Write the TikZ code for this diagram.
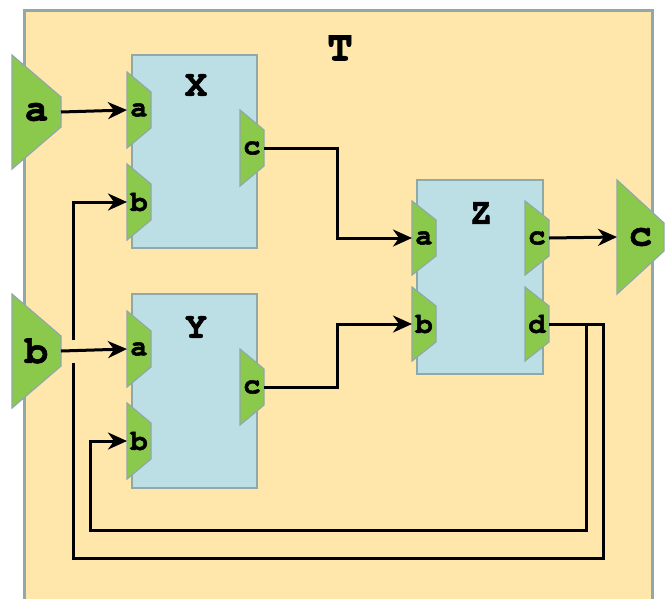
\documentclass[tikz,border=0pt]{standalone}
\usepackage{fontspec}
\newfontfamily\courfont{TeX Gyre Cursor}[BoldFeatures={FakeBold=1.6}]
\usetikzlibrary{arrows.meta}
\definecolor{framefill}{HTML}{FFE6AA}
\definecolor{boxfill}{HTML}{BBDFE5}
\definecolor{portfill}{HTML}{8BC94C}
\definecolor{edgegray}{HTML}{8FA8A8}
\tikzset{
  framebox/.style={fill=framefill, draw=edgegray, line width=3pt},
  compbox/.style={fill=boxfill, draw=edgegray, line width=1.5pt},
  portshape/.style={fill=portfill, draw=edgegray, line width=1.2pt, line join=miter},
  portlbl/.style={inner sep=0pt, font=\courfont\bfseries\fontsize{29}{29}\selectfont},
  outlbl/.style={inner sep=0pt, font=\courfont\bfseries\fontsize{39}{39}\selectfont},
  boxlbl/.style={inner sep=0pt, font=\courfont\bfseries\fontsize{37}{37}\selectfont},
  wire/.style={line width=3pt, line join=miter, black},
  arrowwire/.style={wire, -{Stealth[length=19pt, width=17pt, inset=6pt]}},
}
% #1 name, #2 left x, #3 center y, #4 width, #5 half height, #6 half short side, #7 style, #8 text
\newcommand{\myport}[8]{%
  \draw[portshape] (#2,#3-#5) -- (#2+#4,#3-#6) -- (#2+#4,#3+#6) -- (#2,#3+#5) -- cycle;
  \coordinate (#1-w) at (#2,#3);
  \coordinate (#1-e) at (#2+#4,#3);
  \node[#7] (#1) at (#2+#4/2,#3) {#8};
}
\begin{document}
\begin{tikzpicture}[x=1pt, y=-1pt]
\useasboundingbox (0,0) rectangle (671,598);
\begin{scope}
\clip (0,0) rectangle (671,598);
\draw[framebox] (24,10) rectangle (652,620);
\end{scope}
\node[boxlbl, font=\courfont\bfseries\fontsize{43}{43}\selectfont] (T) at (340,48) {T};

% components
\draw[compbox] (132,55) rectangle (257,248);
\node[boxlbl] (X) at (196,85) {X};
\draw[compbox] (132,294) rectangle (257,488);
\node[boxlbl] (Y) at (196,327) {Y};
\draw[compbox] (417,180) rectangle (543,374);
\node[boxlbl] (Z) at (481,213) {Z};

% outer ports
\myport{Ta}{12}{112}{49}{57}{15}{outlbl}{a}
\myport{Tb}{12}{351}{49}{57}{15}{outlbl}{b}
\myport{Tc}{617}{237}{47}{57}{14}{outlbl}{c}

% inner ports
\myport{Xa}{127}{110}{24}{38}{18}{portlbl}{a}
\myport{Xb}{127}{202}{24}{38}{18}{portlbl}{b}
\myport{Xc}{240}{148}{24}{38}{18}{portlbl}{c}
\myport{Ya}{127}{349}{24}{38}{18}{portlbl}{a}
\myport{Yb}{127}{441}{24}{38}{18}{portlbl}{b}
\myport{Yc}{240}{387}{24}{38}{18}{portlbl}{c}
\myport{Za}{412}{238}{24}{37}{18}{portlbl}{a}
\myport{Zb}{412}{324}{24}{37}{18}{portlbl}{b}
\myport{Zc}{525}{238}{24}{37}{18}{portlbl}{c}
\myport{Zd}{525}{324}{24}{37}{18}{portlbl}{d}

% routing points
\coordinate (r1) at (586,530);
\coordinate (l1) at (90,441);
\coordinate (r2) at (603,558);
\coordinate (hopS) at (73,363);
\coordinate (hopN) at (73,340);

% connectors
\draw[arrowwire] (Ta-e) -- (Xa-w);
\draw[arrowwire] (Tb-e) -- (Ya-w);
\draw[arrowwire] (Xc-e) -- ++(73,0) |- (Za-w);
\draw[arrowwire] (Yc-e) -- ++(73,0) |- (Zb-w);
\draw[arrowwire] (Zc-e) -- (Tc-w);
\draw[arrowwire] (Zd-e) -| (r1) -| (l1) -- (Yb-w);
\draw[wire] (Zd-e) -| (r2) -| (hopS);
\draw[arrowwire] (hopN) |- (Xb-w);
\end{tikzpicture}
\end{document}
